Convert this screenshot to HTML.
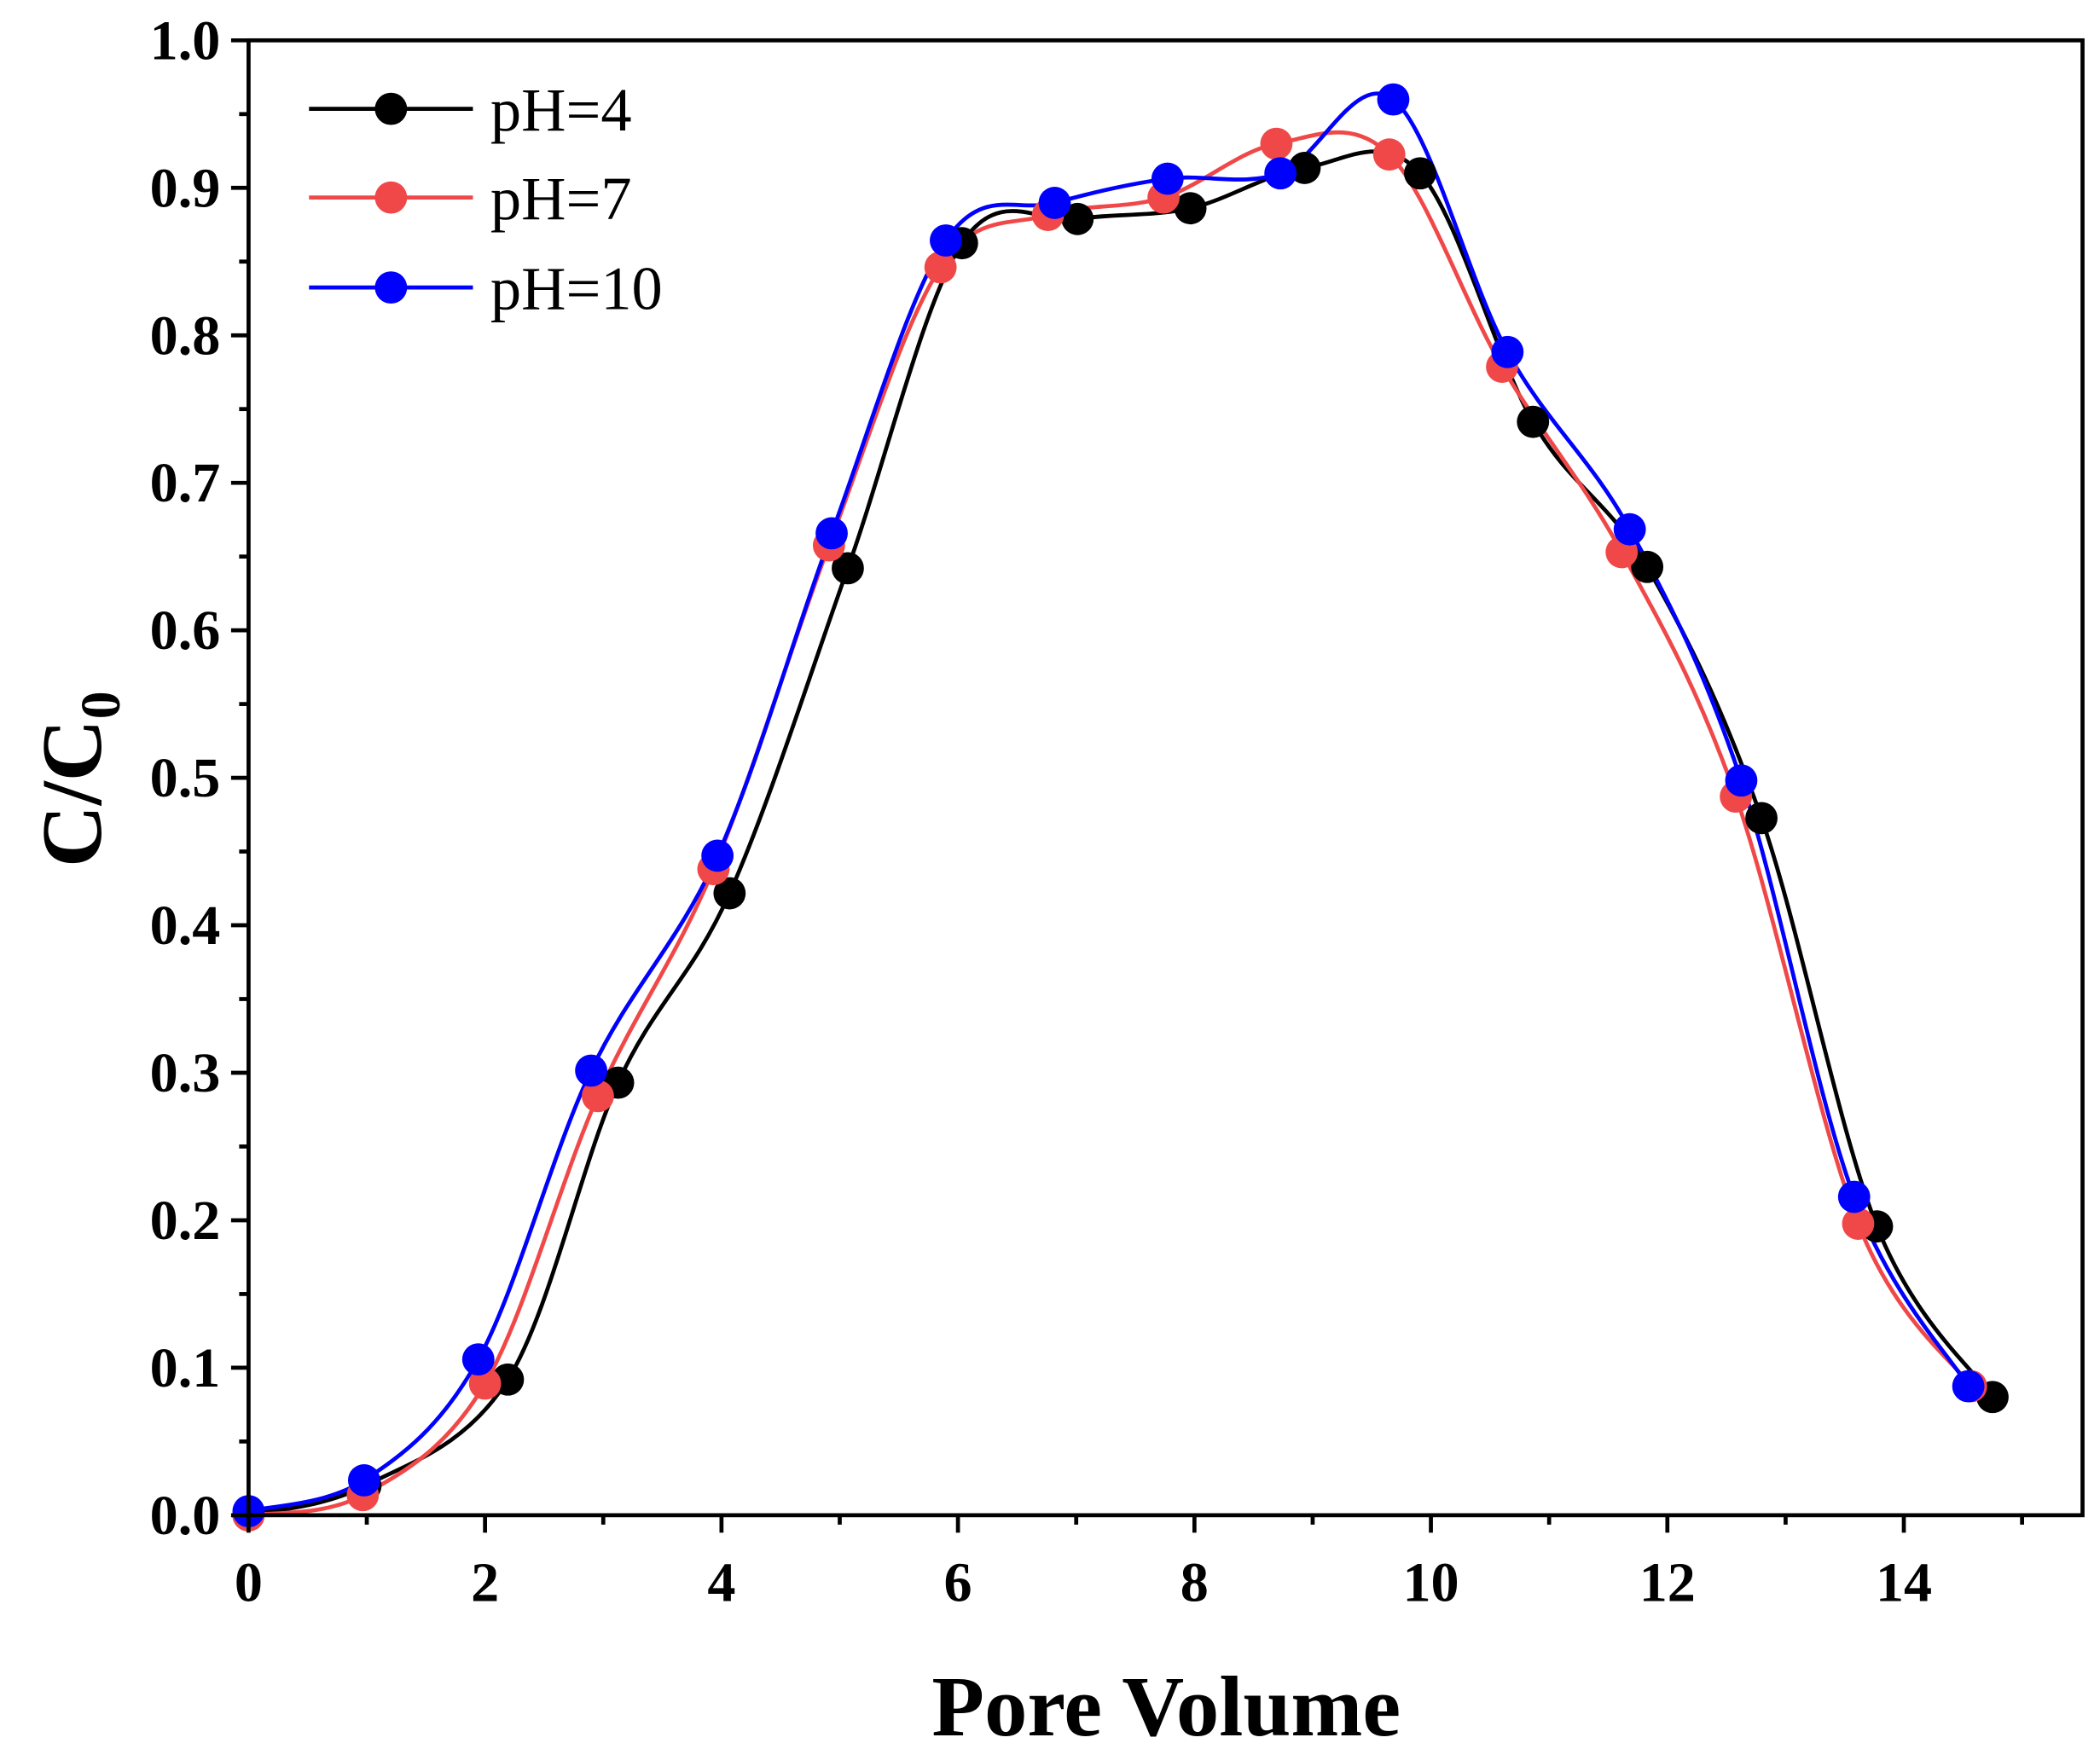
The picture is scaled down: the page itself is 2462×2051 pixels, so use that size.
<!DOCTYPE html>
<html><head><meta charset="utf-8"><style>
html,body{margin:0;padding:0;background:#fff;}
svg{display:block;}
text{font-family:"Liberation Serif","Times New Roman",serif;}
</style></head><body>
<svg id="s" width="2462" height="2051" viewBox="0 0 1563 1302" xmlns="http://www.w3.org/2000/svg">
<rect width="1563" height="1302" fill="#fff"/>
<g id="plot"></g>
<rect x="185" y="30" width="1365" height="1098" fill="none" stroke="#000" stroke-width="3"/>
<g id="ticks" stroke="#000" stroke-width="3"></g>
<g style="font-weight:bold;font-size:42px" fill="#000" id="labels"></g>
<text x="868" y="1292" text-anchor="middle" style="font-weight:bold;font-size:64px">Pore Volume</text>
<text transform="translate(75,580) rotate(-90)" text-anchor="middle" style="font-weight:bold;font-size:64px">C/C<tspan style="font-size:42px" dy="14">0</tspan></text>
<g style="font-size:46px" fill="#000">
<line x1="230" y1="81" x2="352" y2="81" stroke="#000" stroke-width="3"/><circle cx="291" cy="81" r="12" fill="#000"/><text x="365" y="97">pH=4</text>
<line x1="230" y1="147" x2="352" y2="147" stroke="#f04848" stroke-width="3"/><circle cx="291" cy="147" r="12" fill="#f04848"/><text x="365" y="163">pH=7</text>
<line x1="230" y1="214" x2="352" y2="214" stroke="#0000ff" stroke-width="3"/><circle cx="291" cy="214" r="12" fill="#0000ff"/><text x="365" y="230">pH=10</text>
</g>
</svg>
<script>
var NS="http://www.w3.org/2000/svg";
function el(t,a,p){var e=document.createElementNS(NS,t);for(var k in a)e.setAttribute(k,a[k]);p.appendChild(e);return e;}
var ticks=document.getElementById('ticks'),labels=document.getElementById('labels'),plot=document.getElementById('plot');
for(var i=0;i<=15;i++){var x=185+88*i;el('line',{x1:x,y1:1128,x2:x,y2:i%2?1135:1141},ticks);
 if(i%2==0&&i<=14){var t=el('text',{x:x,y:1192,'text-anchor':'middle'},labels);t.textContent=i;}}
for(var j=0;j<=20;j++){var y=1128-54.9*j;el('line',{x1:185,y1:y,x2:j%2?178:172,y2:y},ticks);
 if(j%2==0){var t=el('text',{x:164,y:y+14,'text-anchor':'end'},labels);t.textContent=(j/20).toFixed(1);}}
var series=[
["#000",[[185,1128],[272,1106],[378,1027],[460,806],[543,665],[631,423],[716,181],[802,163],[886,155],[971,125],[1057,129],[1141,314],[1226,422],[1311,609],[1397,913],[1483,1040]]],
["#f04848",[[185,1128],[270,1113],[361,1030],[445,816],[531,647],[617,406],[700,199],[780,160],[866,147],[950,107],[1034,115],[1118,273],[1207,411],[1292,593],[1383,911],[1467,1032]]],
["#0000ff",[[185,1125],[271,1102],[356,1012],[440,797],[534,637],[619,397],[704,179],[785,151],[869,133],[953,129],[1037,74],[1122,262],[1213,394],[1296,581],[1380,891],[1465,1032]]]];
series.forEach(function(s){var p=s[1],d="M"+p[0][0]+","+p[0][1];
 for(var i=0;i<p.length-1;i++){var p0=p[i-1]||p[i],p1=p[i],p2=p[i+1],p3=p[i+2]||p2;
  d+=" C"+(p1[0]+(p2[0]-p0[0])/6)+","+(p1[1]+(p2[1]-p0[1])/6)+" "+(p2[0]-(p3[0]-p1[0])/6)+","+(p2[1]-(p3[1]-p1[1])/6)+" "+p2[0]+","+p2[1];}
 el('path',{d:d,fill:'none',stroke:s[0],'stroke-width':3},plot);});
series.forEach(function(s){s[1].forEach(function(q){el('circle',{cx:q[0],cy:q[1],r:12,fill:s[0]},plot);});});
</script>
</body></html>
